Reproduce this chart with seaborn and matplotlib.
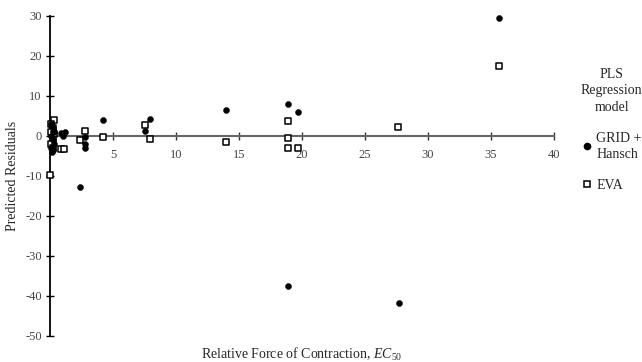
import matplotlib
matplotlib.use("Agg")
import matplotlib.pyplot as plt
import seaborn as sns
import pandas as pd
from matplotlib.lines import Line2D

# Residuals of the two PLS regression models against EC50
grid_x = [0.1, 0.2, 0.3, 0.1, 0.2, 0.3, 0.1, 0.2, 0.15, 0.9, 1.2, 1.0,
          2.4, 2.8, 2.8, 2.8, 4.2, 7.5, 7.9, 14.0, 18.9, 19.7, 18.9, 27.7, 35.6]
grid_y = [3.0, 2.0, 1.0, 0.0, -1.0, -2.0, -3.0, -3.5, -4.0, 0.8, 1.0, 0.0,
          -12.7, -0.3, -2.0, -3.0, 3.9, 1.3, 4.2, 6.5, 7.9, 6.1, -37.4, -41.8, 29.6]

eva_x = [0.3, 0.1, 0.2, 0.1, 0.3, 0.2, 0.1, 0.2, 0.0, 0.9, 1.1,
         2.4, 2.8, 4.2, 7.5, 7.9, 14.0, 18.9, 18.9, 18.9, 19.7, 27.6, 35.6]
eva_y = [4.0, 3.0, 2.0, 1.0, 0.5, -1.0, -2.0, -3.0, -9.7, -3.3, -3.3,
         -1.0, 1.25, -0.3, 2.75, -0.8, -1.4, 3.75, -0.6, -3.0, -3.0, 2.25, 17.4]

x_ticks = [5, 10, 15, 20, 25, 30, 35, 40]
y_ticks = [30, 20, 10, 0, -10, -20, -30, -40, -50]
y_tick_labels = ["30", "20", "10", "0", "-10", "-20", "-30", "-40", "-50"]

series_names = ["GRID +\nHansch", "EVA"]

sns.set_style("white")
plt.rcParams["font.family"] = ["Liberation Serif", "DejaVu Serif"]
plt.rcParams["mathtext.fontset"] = "custom"
plt.rcParams["mathtext.rm"] = "Liberation Serif"
plt.rcParams["mathtext.it"] = "Liberation Serif:italic"

df_grid = pd.DataFrame({"ec50": grid_x, "resid": grid_y})
df_eva = pd.DataFrame({"ec50": eva_x, "resid": eva_y})

fig = plt.figure(figsize=(6.42, 3.62), dpi=100)
ax = fig.add_axes([50 / 642, 1 - 336 / 362, (554 - 50) / 642, (336 - 16) / 362])

sns.scatterplot(data=df_eva, x="ec50", y="resid", ax=ax, marker="s", s=17,
                facecolor="white", edgecolor="black", linewidth=1.1, zorder=3,
                clip_on=False)
sns.scatterplot(data=df_grid, x="ec50", y="resid", ax=ax, marker="o", s=19,
                color="black", edgecolor="black", linewidth=0.3, zorder=4,
                clip_on=False)

ax.set_xlim(0, 40)
ax.set_ylim(-50, 30)

for side in ("top", "right"):
    ax.spines[side].set_visible(False)
ax.spines["bottom"].set_position(("data", 0))
ax.spines["bottom"].set_color("#666666")
ax.spines["bottom"].set_linewidth(1.5)
ax.spines["left"].set_color("black")
ax.spines["left"].set_linewidth(1.3)

ax.set_xticks(x_ticks)
ax.set_xticklabels([str(t) for t in x_ticks])
ax.set_yticks(y_ticks)
ax.set_yticklabels(y_tick_labels)
ax.tick_params(axis="x", direction="inout", length=6, width=1, color="#333333",
               labelsize=9, labelcolor="#444444", pad=6, bottom=True)
ax.tick_params(axis="y", direction="inout", length=6, width=1, color="black",
               labelsize=9, labelcolor="#444444", pad=3, left=True)

ax.set_xlabel("")
ax.set_ylabel("Predicted Residuals", fontsize=10)
ax.yaxis.set_label_coords((19 - 50) / 504, 0.5)
fig.text(302 / 642, 1 - 354 / 362, r"Relative Force of Contraction, $\mathit{EC}$$_{50}$",
         ha="center", va="center", fontsize=10)

handles = [
    Line2D([], [], marker="o", linestyle="none", markerfacecolor="black",
           markeredgecolor="black", markersize=4.5),
    Line2D([], [], marker="s", linestyle="none", markerfacecolor="white",
           markeredgecolor="black", markeredgewidth=1.1, markersize=4.3),
]
leg = fig.legend(handles, series_names, title="PLS\nRegression\nmodel",
                 loc="upper right", bbox_to_anchor=(648 / 642, 1 - 62 / 362),
                 frameon=False, fontsize=10, title_fontsize=10,
                 handletextpad=0.25, handlelength=0.8, labelspacing=1.3,
                 borderaxespad=0)
leg.get_title().set_multialignment("center")
leg.get_title().set_linespacing(1.35)
leg._legend_box.sep = 13
for txt in leg.get_texts():
    txt.set_linespacing(1.35)

fig.savefig("out.png", dpi=100)
